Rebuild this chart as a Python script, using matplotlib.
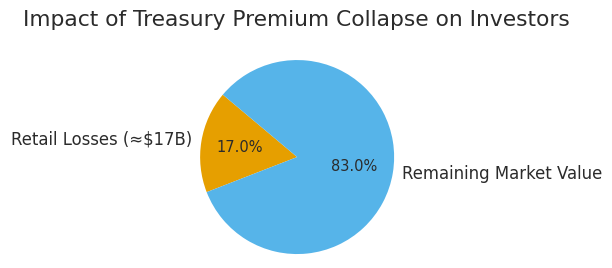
import matplotlib
matplotlib.use("Agg")
import matplotlib.pyplot as plt

labels = ["Retail Losses (≈$17B)", "Remaining Market Value"]
shares = [17, 83]
colors = ["#E69F00", "#56B4E9"]

plt.rcParams['font.family'] = ['DejaVu Sans']
text_color = "#2b2b2b"

fig = plt.figure(figsize=(6.12, 2.68), dpi=100)
ax = fig.add_axes([0.327, 0.052, 0.317, 0.724])

wedges, texts, autotexts = ax.pie(shares, labels=labels, colors=colors,
                                  autopct="%1.1f%%", startangle=140,
                                  textprops={"color": text_color})
for t in texts:
    t.set_fontsize(11.9)
for t in autotexts:
    t.set_fontsize(10.5)

ax.set_xlim(-1, 1)
ax.set_ylim(-1, 1)
ax.set_aspect("equal")

fig.text(0.485, 0.925, "Impact of Treasury Premium Collapse on Investors",
         ha="center", va="center", fontsize=15.7, color=text_color)

fig.savefig("out.png", dpi=100)
